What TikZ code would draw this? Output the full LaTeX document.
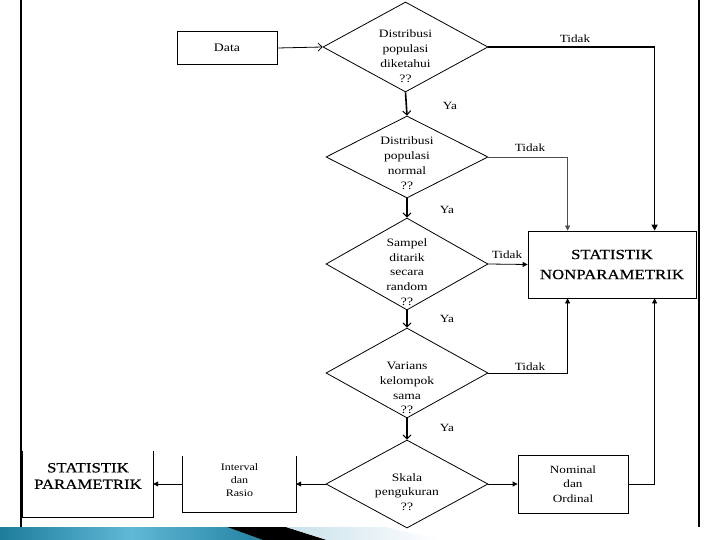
\documentclass[tikz,border=0pt]{standalone}
\usepackage{fontspec}
\setmainfont{Liberation Serif}[FakeStretch=1.2]
\newfontfamily\headfont{Liberation Serif}[FakeStretch=1.2,FakeBold=0.6]
\usetikzlibrary{shapes.geometric,arrows.meta}
\tikzset{
  dia/.style={shape=diamond, draw, line width=0.8pt, inner sep=0pt, minimum width=#1, minimum height=90pt},
  dtext/.style={align=center, inner sep=0pt, font=\fontsize{11.3}{14.8}\selectfont},
  lab/.style={inner sep=0pt, font=\fontsize{11}{12}\selectfont},
  box/.style={draw, line width=0.8pt, inner sep=0pt},
  bigtext/.style={align=center, inner sep=0pt},
  down/.style={line width=1.6pt, -{Straight Barb[length=4pt,width=8pt,line width=1pt]}},
  openarr/.style={line width=0.8pt, -{Straight Barb[length=4pt,width=8pt,line width=0.8pt]}},
  fillarr/.style={line width=0.8pt, -{Triangle[length=5pt,width=5pt]}},
}
\begin{document}
\begin{tikzpicture}[x=1pt,y=-1pt]
\useasboundingbox (0,0) rectangle (720,540);
\fill[white] (0,0) rectangle (720,540);

% frame lines
\draw[line width=1.8pt] (21,0) -- (21,527);
\draw[line width=1.8pt] (699,0) -- (699,527);

% diamonds
\node[dia=165pt, minimum height=90pt] (d1) at (405.5,47) {};
\node[dia=162pt, minimum height=82pt] (d2) at (407,157) {};
\node[dia=162pt, minimum height=92pt] (d3) at (407,264) {};
\node[dia=162pt, minimum height=90pt] (d4) at (407,373) {};
\node[dia=162pt, minimum height=88pt] (d5) at (407,484) {};

\node[dtext] (d1t) at (405.5,56) {Distribusi\\populasi\\diketahui\\??};
\node[dtext] (d2t) at (407,163) {Distribusi\\populasi\\normal\\??};
\node[dtext] (d3t) at (407,272) {Sampel\\ditarik\\secara\\random\\??};
\node[dtext] (d4t) at (407,388) {Varians\\kelompok\\sama\\??};
\node[dtext] (d5t) at (407,492) {Skala\\pengukuran\\??};

% boxes
\node[box, minimum width=100pt, minimum height=33pt, font=\fontsize{11.5}{13}\selectfont] (data) at (227,48) {Data};
\node[box, minimum width=168pt, minimum height=67pt, bigtext, font=\headfont\fontsize{14}{20}\selectfont] (np) at (612,264.5) {STATISTIK\\NONPARAMETRIK};
\node[box, minimum width=110pt, minimum height=58pt, align=center, font=\fontsize{11}{14.5}\selectfont] (nom) at (573,484) {Nominal\\dan\\Ordinal};
\node[minimum width=113pt, minimum height=56pt, inner sep=0pt] (int) at (239.5,484) {};
\node[align=center, inner sep=0pt, font=\fontsize{10}{13}\selectfont] (intt) at (239.5,480) {Interval\\dan\\Rasio};
\node[minimum width=130pt, minimum height=66pt, inner sep=0pt] (par) at (88,484) {};
\node[bigtext, font=\headfont\fontsize{14}{16.5}\selectfont] (part) at (88,476) {STATISTIK\\PARAMETRIK};
\draw[line width=0.8pt] (int.north west) -- (int.south west) -- (int.south east) -- (int.north east);
\draw[line width=0.8pt] (par.north west) -- (par.south west) -- (par.south east) -- (par.north east);

% labels
\node[lab] (t1) at (575,39) {Tidak};
\node[lab] (t2) at (530,148) {Tidak};
\node[lab] (t3) at (507,255) {Tidak};
\node[lab] (t4) at (530,367) {Tidak};
\node[lab] (y1) at (450,106) {Ya};
\node[lab] (y2) at (447,210) {Ya};
\node[lab] (y3) at (447,319) {Ya};
\node[lab] (y4) at (447,428) {Ya};

% connectors
\draw[openarr] (data.east) -- (d1.west);
\draw[down] (d1.south) -- (d2.north);
\draw[down] (d2.south) -- (d3.north);
\draw[down] (d3.south) -- (d4.north);
\draw[down] (d4.south) -- (d5.north);
\draw[line width=1.3pt, -{Triangle[length=6pt,width=6pt]}] (d1.east) -| ([xshift=127pt]np.north west);
\draw[line width=0.6pt, draw=black!70, -{Triangle[length=5pt,width=5pt]}] (d2.east) -| ([xshift=40pt]np.north west);
\draw[fillarr] (d3.east) -- (np.west);
\draw[fillarr] (d4.east) -| ([xshift=40pt]np.south west);
\draw[fillarr] (nom.east) -| ([xshift=127pt]np.south west);
\draw[fillarr] (d5.east) -- (nom.west);
\draw[fillarr] (d5.west) -- (int.east);
\draw[fillarr] (int.west) -- (par.east);

% bottom bar
\shade[left color={rgb,255:red,30;green,125;blue,155}, right color={rgb,255:red,35;green,130;blue,160}, middle color={rgb,255:red,95;green,185;blue,215}]
  (0,527) -- (227,527) -- (263,540) -- (0,540) -- cycle;
\fill[black] (227,527) -- (286,527) -- (327,540) -- (263,540) -- cycle;
\shade[left color={rgb,255:red,200;green,225;blue,235}, right color=white]
  (286,527) -- (385,527) -- (440,540) -- (327,540) -- cycle;
\end{tikzpicture}
\end{document}
